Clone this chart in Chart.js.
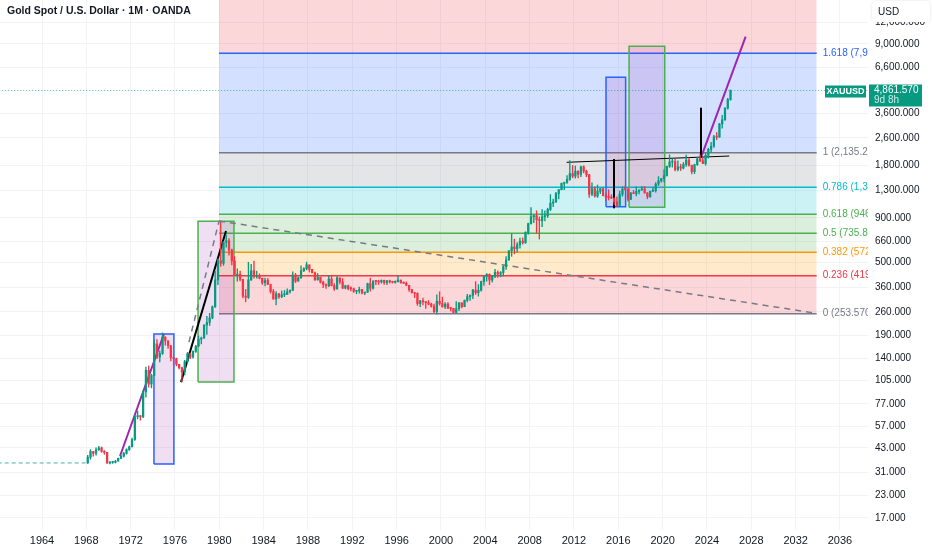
<!DOCTYPE html>
<html>
<head>
<meta charset="utf-8">
<script src="https://cdn.jsdelivr.net/npm/chart.js@4.4.1/dist/chart.umd.min.js"></script>
<style>
  html, body { margin: 0; padding: 0; background: #fff; }
  #wrap { width: 932px; height: 550px; position: relative; }
</style>
</head>
<body>
<div id="wrap"><canvas id="chart" width="932" height="550"></canvas></div>
<script>
// ----------------------------
// DATA (quarterly candles)
// ----------------------------
const firstYear = 1968;
const closes = [
  38, 41, 40, 41.9,
  43, 41, 40.5, 35.2,
  35.5, 35.5, 36, 37.4,
  38.5, 40, 42, 43.6,
  48, 65, 65, 64.9,
  90, 120, 100, 112,
  170, 143, 150, 186.5,
  177, 166, 142, 140,
  130, 124, 117, 134.5,
  149, 143, 154, 164.9,
  181, 184, 218, 226,
  240, 278, 397, 512,
  494, 653, 666, 590,
  510, 423, 428, 400,
  320, 315, 397, 448,
  415, 415, 405, 382,
  394, 374, 340, 308,
  330, 317, 326, 327,
  339, 345, 423, 390,
  408, 448, 460, 484,
  456, 436, 397, 410,
  385, 373, 367, 401,
  368, 352, 408, 386,
  356, 367, 354, 353,
  341, 343, 349, 333,
  337, 378, 355, 391,
  389, 386, 394, 383,
  392, 387, 384, 387,
  396, 382, 379, 369,
  349, 335, 332, 290,
  301, 297, 294, 288,
  280, 261, 299, 290,
  278, 288, 273, 272,
  258, 271, 293, 279,
  303, 318, 323, 347,
  335, 346, 388, 416,
  427, 396, 416, 438,
  428, 437, 473, 517,
  583, 613, 599, 632,
  663, 650, 743, 836,
  917, 928, 880, 869,
  916, 927, 1008, 1096,
  1113, 1244, 1307, 1421,
  1439, 1500, 1620, 1565,
  1668, 1604, 1773, 1675,
  1595, 1234, 1327, 1202,
  1283, 1327, 1210, 1184,
  1183, 1172, 1115, 1061,
  1233, 1321, 1315, 1152,
  1249, 1242, 1280, 1303,
  1325, 1253, 1192, 1282,
  1292, 1409, 1472, 1517,
  1577, 1781, 1886, 1898,
  1708, 1770, 1742, 1829,
  1937, 1807, 1661, 1824,
  1969, 1919, 1849, 2063,
  2230, 2327, 2635, 2625,
  3124, 3303, 3859, 4320,
  4861.57
];
const highs = [
  39, 42, 41, 43,
  43.8, 43.5, 41.5, 40.5,
  35.8, 36, 36.5, 37.6,
  39, 40.5, 42.5, 44,
  49, 66, 70, 66,
  91, 125, 127, 114,
  179, 180, 155, 197,
  187, 177, 167, 143,
  141, 130, 125, 137,
  152, 150, 155, 167,
  189, 186, 220, 245,
  255, 281, 445, 525,
  850, 660, 720, 686,
  596, 540, 460, 446,
  400, 350, 501, 488,
  509, 446, 430, 406,
  406, 405, 358, 350,
  340, 332, 343, 345,
  352, 348, 442, 433,
  412, 478, 467, 502,
  484, 457, 440, 432,
  412, 390, 376, 420,
  422, 378, 414, 405,
  404, 370, 370, 362,
  356, 346, 361, 350,
  338, 380, 406, 392,
  395, 395, 397, 396,
  395, 396, 390, 392,
  417, 396, 387, 386,
  369, 350, 335, 335,
  303, 312, 298, 302,
  292, 288, 326, 339,
  316, 294, 294, 275,
  272, 298, 294, 293,
  304, 328, 326, 350,
  388, 373, 391, 417,
  432, 430, 420, 457,
  448, 443, 477, 540,
  584, 730, 681, 651,
  691, 693, 750, 842,
  1033, 935, 990, 913,
  1006, 990, 1025, 1227,
  1154, 1265, 1315, 1431,
  1447, 1577, 1921, 1803,
  1791, 1684, 1788, 1796,
  1693, 1605, 1434, 1361,
  1392, 1332, 1345, 1255,
  1307, 1224, 1170, 1191,
  1283, 1362, 1375, 1337,
  1264, 1296, 1357, 1307,
  1366, 1365, 1262, 1284,
  1346, 1438, 1557, 1519,
  1703, 1788, 2075, 1965,
  1959, 1916, 1834, 1877,
  2070, 1998, 1814, 1834,
  2009, 2079, 1987, 2146,
  2265, 2450, 2685, 2790,
  3148, 3500, 3872, 4381,
  4900
];
const lows = [
  35, 37, 38.5, 39,
  41.5, 40.5, 39.5, 35,
  34.8, 35, 35.2, 36.5,
  37.3, 38, 39.5, 41.5,
  43.5, 47.5, 63, 62,
  64, 84, 96, 95,
  112, 140, 134, 148,
  167, 160, 136, 128,
  127, 122, 103, 113,
  131, 140, 141, 152,
  165, 170, 183, 193,
  217, 237, 276, 372,
  474, 481, 612, 550,
  484, 420, 390, 391,
  313, 297, 310, 394,
  406, 406, 402, 374,
  366, 372, 333, 307,
  285, 311, 314, 318,
  328, 333, 345, 383,
  390, 405, 443, 453,
  440, 435, 394, 395,
  380, 358, 355, 363,
  366, 345, 351, 376,
  353, 352, 347, 343,
  336, 330, 333, 330,
  326, 336, 342, 351,
  373, 374, 380, 374,
  372, 380, 380, 380,
  386, 380, 378, 367,
  341, 333, 314, 283,
  278, 285, 272, 285,
  277, 257, 252, 284,
  276, 271, 271, 263,
  255, 255, 264, 274,
  278, 296, 302, 309,
  327, 320, 342, 369,
  390, 372, 385, 408,
  410, 413, 418, 456,
  514, 542, 560, 573,
  603, 637, 642, 726,
  830, 845, 736, 681,
  802, 865, 905, 992,
  1044, 1106, 1157, 1311,
  1308, 1420, 1478, 1532,
  1523, 1527, 1555, 1635,
  1555, 1180, 1208, 1186,
  1182, 1240, 1204, 1131,
  1142, 1162, 1077, 1046,
  1046, 1200, 1302, 1123,
  1146, 1240, 1204, 1236,
  1302, 1250, 1160, 1180,
  1276, 1266, 1381, 1445,
  1451, 1567, 1757, 1764,
  1677, 1677, 1687, 1721,
  1780, 1787, 1615, 1617,
  1804, 1893, 1846, 1810,
  1985, 2146, 2286, 2536,
  2614, 2957, 3268, 3800,
  4270
];

// fixed $35 era before the free market
const earlyYears = [1960, 1968];
const earlyPrices = [35.2, 35.2];
const lastPrice = 4861.57;

// axes
const yTicks = [17, 23, 31, 43, 57, 77, 105, 140, 190, 260, 360, 500, 660, 900, 1300, 1800, 2600, 3600, 6600, 9000, 12000];
const xTicks = [1964, 1968, 1972, 1976, 1980, 1984, 1988, 1992, 1996, 2000, 2004, 2008, 2012, 2016, 2020, 2024, 2028, 2032, 2036];

// fib retracement (log), 1980 high -> 1999 low anchor
const fibRatios = ['0', '0.236', '0.382', '0.5', '0.618', '0.786', '1', '1.618', '2.618'];
const fibPrices = [253.57, 419.36, 572.12, 735.81, 946.29, 1353.18, 2135.2, 7966.37, 67020];
const fibFrom = 1979.97;
const fibTo = 2033.9;

// boxes
const boxFrom = [1974.1, 1978.08, 2014.89, 2016.97];
const boxTo = [1975.9, 1981.32, 2016.66, 2020.19];
const boxLow = [34.7, 102.6, 1045, 1037];
const boxHigh = [194, 862, 5789, 8727];

// trend lines / markers
const segX1 = [1971.04, 1976.54, 1977.26, 1979.97, 2011.34, 2015.61, 2023.46, 2023.46];
const segY1 = [38.6, 102.6, 174, 865, 1880, 1023, 1999, 1999];
const segX2 = [1975.0, 1980.6, 1979.97, 2033.7, 2026.01, 2015.61, 2023.46, 2027.49];
const segY2 = [194, 757, 862, 256, 2043, 1963, 3873, 9910];

// ----------------------------
// STYLES
// ----------------------------
const UP = '#089981';
const DOWN = '#f23645';
const fibColors = ['#787b86', '#f23645', '#ff9800', '#4caf50', '#4caf50', '#00bcd4', '#787b86', '#2962ff', '#f23645'];
const boxColors = ['#2962ff', '#4caf50', '#2962ff', '#4caf50'];
const segStyles = [
  { c: '#9c27b0', w: 2 },
  { c: '#000000', w: 2 },
  { c: '#787b86', w: 1.5, d: [6, 5] },
  { c: '#787b86', w: 1.5, d: [6, 5] },
  { c: '#000000', w: 1 },
  { c: '#000000', w: 2 },
  { c: '#000000', w: 2 },
  { c: '#9c27b0', w: 2 }
];
const FONT = '"Liberation Sans", Arial, sans-serif';

function rgba(hex, a) {
  const n = parseInt(hex.slice(1), 16);
  return `rgba(${(n >> 16) & 255},${(n >> 8) & 255},${n & 255},${a})`;
}
function fmt(v) {
  return Number(v).toLocaleString('en-US', { minimumFractionDigits: 3, maximumFractionDigits: 3 });
}

// ----------------------------
// DATASETS
// ----------------------------
const candleX = closes.map((c, i) => firstYear + i / 4 + 0.125);
const opens = closes.map((c, i) => (i ? closes[i - 1] : earlyPrices[earlyPrices.length - 1]));
const candleColors = closes.map((c, i) => (c >= opens[i] ? UP : DOWN));

const datasets = [];

datasets.push({
  type: 'bar',
  data: closes.map((c, i) => ({ x: candleX[i], y: [opens[i], c] })),
  backgroundColor: candleColors,
  barThickness: 1.6,
  minBarLength: 1,
  grouped: false,
  order: 0
});
datasets.push({
  type: 'bar',
  data: closes.map((c, i) => ({ x: candleX[i], y: [lows[i], highs[i]] })),
  backgroundColor: candleColors,
  barThickness: 0.7,
  grouped: false,
  order: 1
});
datasets.push({
  type: 'line',
  data: earlyYears.map((yr, i) => ({ x: yr, y: earlyPrices[i] })),
  borderColor: 'rgba(8,153,129,0.75)',
  borderWidth: 1,
  borderDash: [4, 3],
  pointRadius: 0,
  order: 1
});

// drawn lines
segX1.forEach((x1, i) => {
  const s = segStyles[i];
  datasets.push({
    type: 'line',
    data: [{ x: x1, y: segY1[i] }, { x: segX2[i], y: segY2[i] }],
    borderColor: s.c,
    borderWidth: s.w,
    borderDash: s.d || [],
    pointRadius: 0,
    order: 2
  });
});

// last price dotted line
datasets.push({
  type: 'line',
  data: [{ x: 1955, y: lastPrice }, { x: 2045, y: lastPrice }],
  borderColor: 'rgba(8,153,129,0.7)',
  borderWidth: 1,
  borderDash: [1, 2],
  pointRadius: 0,
  order: 3
});

// boxes: outline + fill
boxFrom.forEach((x1, i) => {
  const x2 = boxTo[i], lo = boxLow[i], hi = boxHigh[i];
  datasets.push({
    type: 'line',
    data: [{ x: x1, y: lo }, { x: x1, y: hi }, { x: x2, y: hi }, { x: x2, y: lo }, { x: x1, y: lo }],
    borderColor: boxColors[i],
    borderWidth: 1.5,
    pointRadius: 0,
    order: 4
  });
  datasets.push({
    type: 'line',
    data: [{ x: x1, y: hi }, { x: x2, y: hi }],
    borderWidth: 0,
    borderColor: 'rgba(0,0,0,0)',
    backgroundColor: 'rgba(156,39,176,0.15)',
    fill: { value: lo },
    pointRadius: 0,
    order: 5
  });
});

// fib levels
fibPrices.forEach((p, i) => {
  datasets.push({
    type: 'line',
    data: [{ x: fibFrom, y: p }, { x: fibTo, y: p }],
    borderColor: fibColors[i],
    borderWidth: 1.5,
    backgroundColor: rgba(fibColors[i], 0.2),
    fill: i ? { value: fibPrices[i - 1] } : false,
    pointRadius: 0,
    order: 6
  });
});

// ----------------------------
// OVERLAY TEXT
// ----------------------------
const overlay = {
  id: 'overlay',
  afterDraw(chart) {
    const { ctx, chartArea: a, scales: { x, y } } = chart;

    // fib labels, clipped at the price scale
    ctx.save();
    ctx.beginPath();
    ctx.rect(a.left, a.top, a.right - a.left, a.bottom - a.top);
    ctx.clip();
    ctx.font = '10px ' + FONT;
    ctx.textBaseline = 'middle';
    ctx.textAlign = 'left';
    const lx = x.getPixelForValue(fibTo) + 6;
    fibRatios.forEach((r, i) => {
      const py = y.getPixelForValue(fibPrices[i]);
      if (py < a.top + 4) return;
      ctx.fillStyle = fibColors[i];
      ctx.fillText(r + ' (' + fmt(fibPrices[i]) + ')', lx, py);
    });
    ctx.restore();

    ctx.save();
    // title
    ctx.font = 'bold 10.5px ' + FONT;
    ctx.fillStyle = '#131722';
    ctx.textBaseline = 'middle';
    ctx.fillText('Gold Spot / U.S. Dollar \u00b7 1M \u00b7 OANDA', 7, 11);

    // symbol + last price labels
    const py = y.getPixelForValue(lastPrice);
    ctx.fillStyle = UP;
    ctx.fillRect(a.right - 43, py - 5, 41, 12);
    ctx.fillRect(a.right + 1, py - 6, 53, 22);
    ctx.fillStyle = '#ffffff';
    ctx.font = 'bold 9px ' + FONT;
    ctx.textAlign = 'center';
    ctx.fillText('XAUUSD', a.right - 22.5, py + 1);
    ctx.textAlign = 'left';
    ctx.font = '10px ' + FONT;
    ctx.fillText(fmt(lastPrice), a.right + 6, py);
    ctx.fillStyle = 'rgba(255,255,255,0.8)';
    ctx.fillText('9d 8h', a.right + 6, py + 10);

    // currency button
    ctx.shadowColor = 'rgba(0,0,0,0.12)';
    ctx.shadowBlur = 3;
    ctx.fillStyle = '#ffffff';
    ctx.beginPath();
    ctx.roundRect(a.right + 4, 1, 58, 21, 4);
    ctx.fill();
    ctx.shadowBlur = 0;
    ctx.shadowColor = 'transparent';
    ctx.fillStyle = '#131722';
    ctx.font = '10px ' + FONT;
    ctx.fillText('USD', a.right + 10, 12);
    ctx.restore();
  }
};

// ----------------------------
// CHART
// ----------------------------
new Chart(document.getElementById('chart'), {
  type: 'line',
  data: { datasets },
  plugins: [overlay],
  options: {
    responsive: false,
    animation: false,
    events: [],
    layout: { padding: 0 },
    plugins: { legend: { display: false }, tooltip: { enabled: false } },
    scales: {
      x: {
        type: 'linear',
        min: 1960.21,
        max: 2038.53,
        offset: false,
        afterBuildTicks: s => { s.ticks = xTicks.map(v => ({ value: v })); },
        afterFit: s => { s.height = 20; s.paddingLeft = 0; s.paddingRight = 0; },
        ticks: {
          autoSkip: false,
          maxRotation: 0,
          padding: 4,
          color: '#131722',
          font: { family: FONT, size: 11 },
          callback: v => String(v)
        },
        grid: { color: '#f2f3f7', drawTicks: false, offset: false },
        border: { display: false }
      },
      y: {
        type: 'logarithmic',
        position: 'right',
        min: 14.5,
        max: 16100,
        afterBuildTicks: s => { s.ticks = yTicks.map(v => ({ value: v })); },
        afterFit: s => { s.width = 64; s.paddingTop = 0; s.paddingBottom = 0; },
        ticks: {
          autoSkip: false,
          padding: 7,
          color: '#131722',
          font: { family: FONT, size: 10 },
          callback: v => fmt(v)
        },
        grid: { color: '#f2f3f7', drawTicks: false },
        border: { display: false }
      }
    }
  }
});
</script>
</body>
</html>
